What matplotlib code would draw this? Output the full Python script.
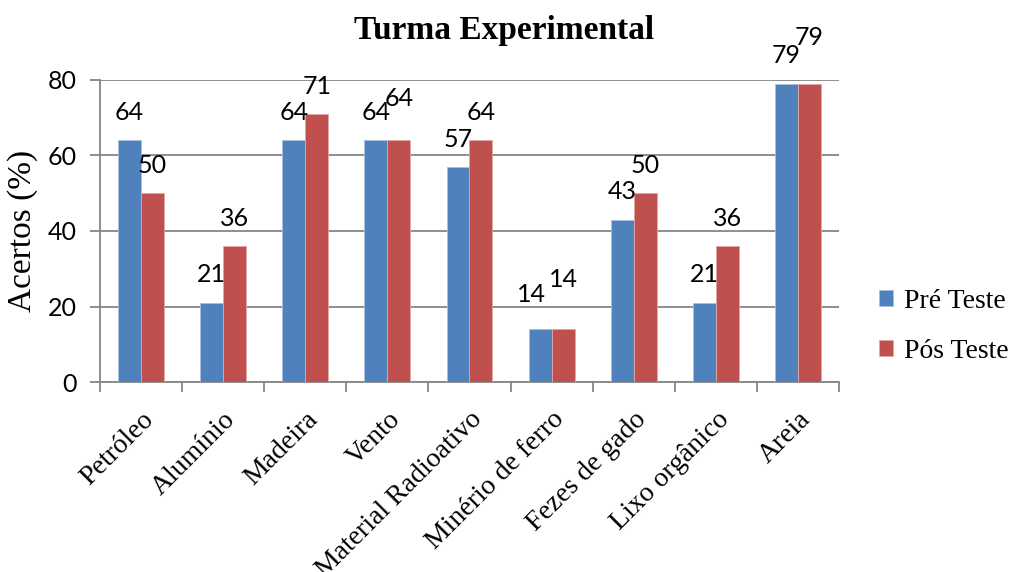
import matplotlib
matplotlib.use("Agg")
import matplotlib.pyplot as plt
import numpy as np
from matplotlib.ticker import FixedLocator

categories = ["Petróleo", "Alumínio", "Madeira", "Vento", "Material Radioativo",
              "Minério de ferro", "Fezes de gado", "Lixo orgânico", "Areia"]
pre_teste = [64, 21, 64, 64, 57, 14, 43, 21, 79]
pos_teste = [50, 36, 71, 64, 64, 14, 50, 36, 79]
series_names = ["Pré Teste", "Pós Teste"]
yticks = [0, 20, 40, 60, 80]

# label offsets (points above bar top) – style only
dy_pre = [20, 20, 20, 20, 20, 25, 20, 20, 20]
dy_pos = [20, 20, 20, 30, 20, 36, 20, 20, 33]
dx_pre = [0, 0, 0, 0, 0, -6, 0, 0, 0]

BLUE = "#4F81BD"
RED = "#C0504D"
GRID = "#868686"
SERIF = "Liberation Serif"
SANS = "Lato"

fig = plt.figure(figsize=(10.11, 5.72), dpi=100)
ax = fig.add_axes([100/1011, 190/572, 739/1011, 302/572])

x = np.arange(len(categories))
w = 0.28
b1 = ax.bar(x - w/2, pre_teste, w, color=BLUE, edgecolor="#a9c1e0", linewidth=0.6,
            label=series_names[0], zorder=3)
b2 = ax.bar(x + w/2, pos_teste, w, color=RED, edgecolor="#e0a9a8", linewidth=0.6,
            label=series_names[1], zorder=3)

ax.set_ylim(0, 80)
ax.set_xlim(-0.5, len(categories) - 0.5)
ax.set_yticks(yticks)
ax.yaxis.grid(True, color=GRID, linewidth=1.3, zorder=0)
for s in ["top", "right"]:
    ax.spines[s].set_visible(False)
for s in ["left", "bottom"]:
    ax.spines[s].set_color(GRID)
    ax.spines[s].set_linewidth(1.3)
ax.tick_params(axis="y", length=7, width=1.3, color=GRID, labelsize=18, pad=10)
for lab in ax.get_yticklabels():
    lab.set_fontfamily(SANS)

ax.set_xticks(x)
ax.set_xticklabels(categories, rotation=45, ha="right", rotation_mode="anchor",
                   fontfamily=SERIF, fontsize=20)
ax.tick_params(axis="x", length=0, pad=18)
ax.xaxis.set_minor_locator(FixedLocator(np.arange(len(categories) + 1) - 0.5))
ax.tick_params(axis="x", which="minor", length=7, width=1.3, color=GRID)

for i in range(len(categories)):
    ax.annotate(str(pre_teste[i]), (x[i] - w/2, pre_teste[i]), xytext=(dx_pre[i], dy_pre[i]),
                textcoords="offset points", ha="center", va="center",
                fontfamily=SANS, fontsize=18, zorder=5)
    ax.annotate(str(pos_teste[i]), (x[i] + w/2, pos_teste[i]), xytext=(0, dy_pos[i]),
                textcoords="offset points", ha="center", va="center",
                fontfamily=SANS, fontsize=18, zorder=5)

ax.set_ylabel("Acertos (%)", fontfamily=SERIF, fontsize=24, labelpad=7)
fig.text(504/1011, 1 - 30/572, "Turma Experimental", ha="center", va="center",
         fontfamily=SERIF, fontweight="bold", fontsize=24)

leg = fig.legend(handles=[b1, b2], labels=series_names, loc="center left",
                 bbox_to_anchor=(879/1011, 1 - 326/572), frameon=False,
                 borderaxespad=0, borderpad=0,
                 prop={"family": SERIF, "size": 20}, handlelength=0.5, handleheight=0.5,
                 handletextpad=0.4, labelspacing=0.9)

fig.savefig("out.png", dpi=100)
